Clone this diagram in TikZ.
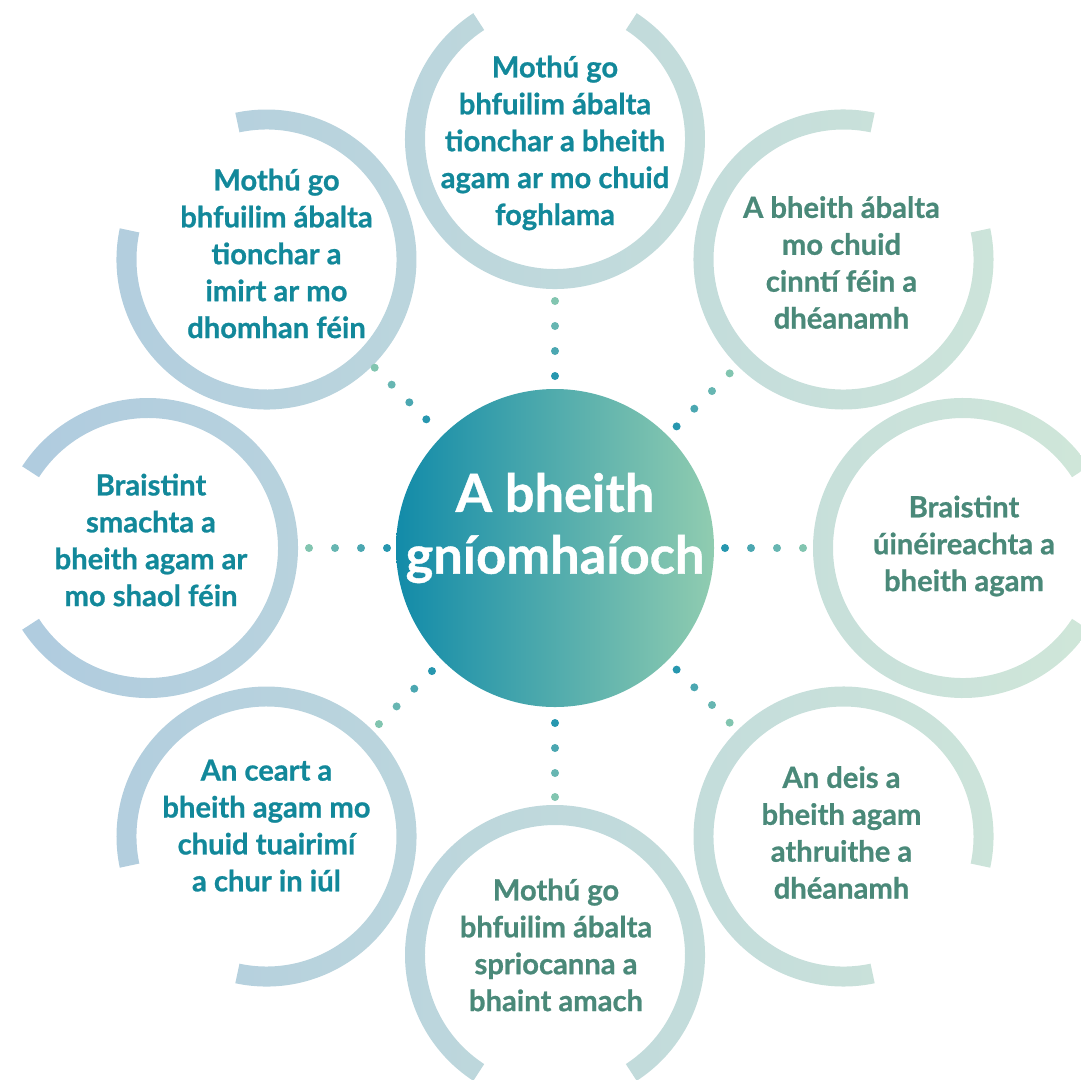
\documentclass[tikz,border=0pt]{standalone}
\usepackage{fontspec}
\setmainfont{Lato}[BoldFeatures={FakeBold=0.8}]
\usepackage{tikz}
\usetikzlibrary{calc}
\usetikzlibrary{positioning}

\definecolor{ringblue}{HTML}{AFCBDF}
\definecolor{ringgreen}{HTML}{CFE6D9}
\definecolor{coreblue}{HTML}{128BA9}
\definecolor{coregreen}{HTML}{90CCB0}
\definecolor{txtteal}{HTML}{12889A}
\definecolor{txtsage}{HTML}{4A8979}
\definecolor{dota}{HTML}{2797AF}
\definecolor{dotb}{HTML}{4BA7B1}
\definecolor{dotc}{HTML}{67B6B2}
\definecolor{dotd}{HTML}{82C5B0}

\tikzset{
  ringtext/.style={align=center, inner sep=0pt, font=\fontsize{8.3}{10.5}\selectfont\bfseries},
  titletext/.style={align=center, inner sep=0pt, text=white, font=\fontsize{14.9}{17.6}\selectfont\bfseries},
  corecircle/.style={circle, inner sep=0pt, minimum size=3.18cm, left color=coreblue, right color=coregreen}
}
% open ring round a point, gap facing away from the centre
\newcommand{\ringpath}[2]{($(#1)+(#2+33:1.5)$) arc[start angle=#2+33, delta angle=294, radius=1.5] -- ($(#1)+(#2-33:1.3)$) arc[start angle=#2-33, delta angle=-294, radius=1.3] -- cycle}

\begin{document}
\begin{tikzpicture}
    \useasboundingbox (-5.55,-5.31) rectangle (5.26,5.48);

    % ring centres
    \coordinate (rT) at (90:4.09);
    \coordinate (rTR) at (45:4.08);
    \coordinate (rR) at (0:4.08);
    \coordinate (rBR) at (-45:4.08);
    \coordinate (rB) at (-90:4.07);
    \coordinate (rBL) at (-135:4.08);
    \coordinate (rL) at (180:4.07);
    \coordinate (rTL) at (135:4.08);

    % rings, one shading across the whole picture
    \begin{scope}
        \clip \ringpath{rT}{90} \ringpath{rTR}{45} \ringpath{rR}{0} \ringpath{rBR}{-45}
              \ringpath{rB}{-90} \ringpath{rBL}{-135} \ringpath{rL}{180} \ringpath{rTL}{135};
        \shade[left color=ringblue, right color=ringgreen] (-5.55,-5.31) rectangle (5.26,5.48);
    \end{scope}

    % centre
    \node[corecircle] (core) at (0,0) {};
    \node[titletext] (title) at (0,0.2) {A bheith\\gníomhaíoch};

    % texts in the rings
    \node[ringtext, text=txtteal] (top) at ([shift={(0,-0.04)}]rT) {Mothú go\\bhfuilim ábalta\\tionchar a bheith\\agam ar mo chuid\\foghlama};
    \node[ringtext, text=txtsage] (topright) at ([shift={(-0.02,-0.03)}]rTR) {A bheith ábalta\\mo chuid\\cinntí féin a\\dhéanamh};
    \node[ringtext, text=txtsage] (right) at ([shift={(0.01,0.02)}]rR) {Braistint\\úinéireachta a\\bheith agam};
    \node[ringtext, text=txtsage] (botright) at ([shift={(-0.02,0.04)}]rBR) {An deis a\\bheith agam\\athruithe a\\dhéanamh};
    \node[ringtext, text=txtsage] (bottom) at ([shift={(0.01,0.10)}]rB) {Mothú go\\bhfuilim ábalta\\spriocanna a\\bhaint amach};
    \node[ringtext, text=txtteal] (botleft) at ([shift={(0,0.11)}]rBL) {An ceart a\\bheith agam mo\\chuid tuairimí\\a chur in iúl};
    \node[ringtext, text=txtteal] (left) at ([shift={(0.03,0.08)}]rL) {Braistint\\smachta a\\bheith agam ar\\mo shaol féin};
    \node[ringtext, text=txtteal] (topleft) at ([shift={(0.10,0.06)}]rTL) {Mothú go\\bhfuilim ábalta\\tionchar a\\imirt ar mo\\dhomhan féin};

    % dots from centre to top
    \fill[dota] ($(core)!1.72cm!(rT)$) circle (0.04);
    \fill[dotb] ($(core)!1.97cm!(rT)$) circle (0.04);
    \fill[dotc] ($(core)!2.22cm!(rT)$) circle (0.04);
    \fill[dotd] ($(core)!2.47cm!(rT)$) circle (0.04);
    % dots from centre to top right
    \fill[dota] ($(core)!1.72cm!(rTR)$) circle (0.04);
    \fill[dotb] ($(core)!1.97cm!(rTR)$) circle (0.04);
    \fill[dotc] ($(core)!2.22cm!(rTR)$) circle (0.04);
    \fill[dotd] ($(core)!2.47cm!(rTR)$) circle (0.04);
    % dots from centre to right
    \fill[dota] ($(core)!1.70cm!(rR)$) circle (0.04);
    \fill[dotb] ($(core)!1.96cm!(rR)$) circle (0.04);
    \fill[dotc] ($(core)!2.22cm!(rR)$) circle (0.04);
    \fill[dotd] ($(core)!2.48cm!(rR)$) circle (0.04);
    % dots from centre to bottom right
    \fill[dota] ($(core)!1.72cm!(rBR)$) circle (0.04);
    \fill[dotb] ($(core)!1.97cm!(rBR)$) circle (0.04);
    \fill[dotc] ($(core)!2.22cm!(rBR)$) circle (0.04);
    \fill[dotd] ($(core)!2.47cm!(rBR)$) circle (0.04);
    % dots from centre to bottom
    \fill[dota] ($(core)!1.75cm!(rB)$) circle (0.04);
    \fill[dotb] ($(core)!2.00cm!(rB)$) circle (0.04);
    \fill[dotc] ($(core)!2.25cm!(rB)$) circle (0.04);
    \fill[dotd] ($(core)!2.49cm!(rB)$) circle (0.04);
    % dots from centre to bottom left
    \fill[dota] ($(core)!1.74cm!(rBL)$) circle (0.04);
    \fill[dotb] ($(core)!1.99cm!(rBL)$) circle (0.04);
    \fill[dotc] ($(core)!2.24cm!(rBL)$) circle (0.04);
    \fill[dotd] ($(core)!2.49cm!(rBL)$) circle (0.04);
    % dots from centre to left
    \fill[dota] ($(core)!1.68cm!(rL)$) circle (0.04);
    \fill[dotb] ($(core)!1.94cm!(rL)$) circle (0.04);
    \fill[dotc] ($(core)!2.20cm!(rL)$) circle (0.04);
    \fill[dotd] ($(core)!2.46cm!(rL)$) circle (0.04);
    % dots from centre to top left
    \fill[dota] ($(core)!1.82cm!(rTL)$) circle (0.04);
    \fill[dotb] ($(core)!2.06cm!(rTL)$) circle (0.04);
    \fill[dotc] ($(core)!2.31cm!(rTL)$) circle (0.04);
    \fill[dotd] ($(core)!2.55cm!(rTL)$) circle (0.04);
\end{tikzpicture}
\end{document}
